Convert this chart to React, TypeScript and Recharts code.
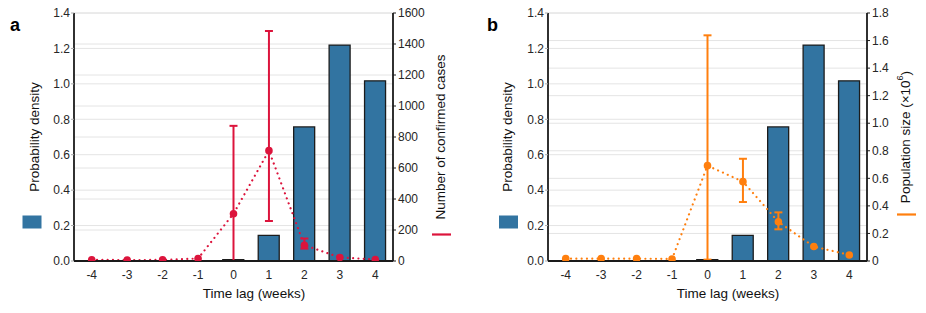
import React from 'react';
import { ComposedChart, Bar, Line, XAxis, YAxis, CartesianGrid, ErrorBar } from 'recharts';

// ---- data ----
const lags = [-4, -3, -2, -1, 0, 1, 2, 3, 4];
const density = [0.002, 0.001, 0.001, 0.001, 0.008, 0.145, 0.757, 1.219, 1.017];

const cases = [8, 6, 7, 16, 305, 712, 102, 23, 10];
const casesLow: (number | null)[] = [null, null, null, null, 0, 258, 80, null, null];
const casesHigh: (number | null)[] = [null, null, null, null, 872, 1484, 145, null, null];

const popSize = [0.017, 0.017, 0.017, 0.015, 0.692, 0.576, 0.284, 0.105, 0.044];
const popLow: (number | null)[] = [null, null, null, null, 0.01, 0.428, 0.23, null, null];
const popHigh: (number | null)[] = [null, null, null, null, 1.638, 0.742, 0.353, null, null];

const leftTicks = [0, 0.2, 0.4, 0.6, 0.8, 1.0, 1.2, 1.4];
const caseTicks = [0, 200, 400, 600, 800, 1000, 1200, 1400, 1600];
const popTicks = [0, 0.2, 0.4, 0.6, 0.8, 1.0, 1.2, 1.4, 1.6, 1.8];

const BLUE = '#3274a1';
const RED = '#dc143c';
const ORANGE = '#ff7f0e';
const FONT = '"Liberation Sans", Arial, Helvetica, sans-serif';
const AXIS = '#1a1a1a';
const GRID = '#e4e4e4';

function buildRows(vals: number[], lo: (number | null)[], hi: (number | null)[]) {
  return lags.map((lag, i) => ({
    lag,
    density: density[i],
    value: vals[i],
    err: lo[i] == null || hi[i] == null ? null : [vals[i] - (lo[i] as number), (hi[i] as number) - vals[i]],
  }));
}

const rowsA = buildRows(cases, casesLow, casesHigh);
const rowsB = buildRows(popSize, popLow, popHigh);

const tickStyle = { fontSize: 12, fill: '#262626', fontFamily: FONT };

function VLabel(props: any) {
  const { viewBox, dx = 0, children } = props;
  if (!viewBox) return null;
  const cx = viewBox.x + viewBox.width / 2 + dx;
  const cy = viewBox.y + viewBox.height / 2;
  return (
    <text
      x={cx}
      y={cy}
      transform={`rotate(-90 ${cx} ${cy})`}
      textAnchor="middle"
      dominantBaseline="central"
      fontSize={13.5}
      fontFamily={FONT}
      fill="#111"
    >
      {children}
    </text>
  );
}

function XLabel(props: any) {
  const { viewBox, dx = 0 } = props;
  if (!viewBox) return null;
  const cx = viewBox.x + viewBox.width / 2 + dx;
  return (
    <text x={cx} y={viewBox.y + 37} textAnchor="middle" fontSize={13.5} fontFamily={FONT} fill="#111">
      Time lag (weeks)
    </text>
  );
}

type PanelProps = {
  rows: any[];
  width: number;
  rightWidth: number;
  rightDomain: [number, number];
  rightTicks: number[];
  rightFmt: (v: number) => string;
  color: string;
  rightLabel: React.ReactNode;
  rightDx: number;
  leftDx: number;
};

function Panel(p: PanelProps) {
  return (
    <ComposedChart width={p.width} height={313} data={p.rows} margin={{ top: 13, right: 0, bottom: 0, left: 0 }} barGap={0}>
      <CartesianGrid yAxisId="left" vertical={false} stroke={GRID} strokeWidth={1} />
      <CartesianGrid yAxisId="right" vertical={false} stroke={GRID} strokeWidth={1} />
      <XAxis
        dataKey="lag"
        type="category"
        height={52}
        tickLine={false}
        tickSize={5}
        tickMargin={4}
        tick={tickStyle}
        axisLine={{ stroke: AXIS, strokeWidth: 1.8 }}
        label={<XLabel dx={20.5} />}
      />
      <XAxis
        xAxisId="top"
        dataKey="lag"
        orientation="top"
        height={0}
        tick={false}
        tickLine={false}
        axisLine={{ stroke: AXIS, strokeWidth: 1.8 }}
      />
      <YAxis
        yAxisId="left"
        width={74}
        domain={[0, 1.4]}
        ticks={leftTicks}
        interval={0}
        allowDataOverflow
        tickFormatter={(v: number) => v.toFixed(1)}
        tick={tickStyle}
        tickSize={3}
        tickMargin={1}
        tickLine={{ stroke: '#aaa' }}
        axisLine={{ stroke: AXIS, strokeWidth: 1.8 }}
        label={<VLabel dx={p.leftDx}>Probability density</VLabel>}
      />
      <YAxis
        yAxisId="right"
        orientation="right"
        width={p.rightWidth}
        domain={p.rightDomain}
        ticks={p.rightTicks}
        interval={0}
        allowDataOverflow
        tickFormatter={p.rightFmt}
        tick={tickStyle}
        tickSize={3}
        tickMargin={2}
        tickLine={{ stroke: AXIS }}
        axisLine={{ stroke: AXIS, strokeWidth: 1.8 }}
        label={<VLabel dx={p.rightDx}>{p.rightLabel}</VLabel>}
      />
      <Bar
        yAxisId="left"
        dataKey="density"
        fill={BLUE}
        stroke="#1c1c1c"
        strokeWidth={1.3}
        barSize={21}
        isAnimationActive={false}
      />
      <Line
        yAxisId="right"
        dataKey="value"
        type="linear"
        stroke={p.color}
        strokeWidth={2.2}
        strokeDasharray="0.01 5.3"
        strokeLinecap="round"
        dot={{ r: 3.8, fill: p.color, stroke: 'none', strokeDasharray: '0' }}
        activeDot={false}
        isAnimationActive={false}
      >
        <ErrorBar dataKey="err" direction="y" width={4} stroke={p.color} strokeWidth={2} strokeDasharray="0" />
      </Line>
    </ComposedChart>
  );
}

export default function App() {
  return (
    <div style={{ position: 'absolute', left: 0, top: 0, width: 926, height: 313, background: '#fff', overflow: 'hidden' }}>
      <div style={{ position: 'absolute', left: 0, top: 0 }}>
        <Panel
          rows={rowsA}
          width={474}
          rightWidth={81}
          rightDomain={[0, 1600]}
          rightTicks={caseTicks}
          rightFmt={(v: number) => String(v)}
          color={RED}
          rightLabel="Number of confirmed cases"
          rightDx={6.5}
          leftDx={-3}
        />
      </div>
      <div style={{ position: 'absolute', left: 474, top: 0 }}>
        <Panel
          rows={rowsB}
          width={452}
          rightWidth={59}
          rightDomain={[0, 1.8]}
          rightTicks={popTicks}
          rightFmt={(v: number) => (v === 0 ? '0' : v.toFixed(1))}
          color={ORANGE}
          rightLabel={
            <>
              Population size (×10
              <tspan dy={-5} fontSize={9}>6</tspan>
              <tspan dy={5}>)</tspan>
            </>
          }
          rightDx={8.5}
          leftDx={-4}
        />
      </div>
      <svg width={926} height={313} style={{ position: 'absolute', left: 0, top: 0, pointerEvents: 'none' }}>
        <text x={10} y={31} fontSize={18} fontWeight="bold" fontFamily={FONT} fill="#000">a</text>
        <text x={487} y={31} fontSize={18} fontWeight="bold" fontFamily={FONT} fill="#000">b</text>
        <rect x={22.5} y={215.5} width={19} height={13} fill={BLUE} />
        <rect x={499} y={215.5} width={19} height={13} fill={BLUE} />
        <line x1={432} x2={451} y1={234.5} y2={234.5} stroke={RED} strokeWidth={2.2} />
        <line x1={897} x2={916} y1={214.5} y2={214.5} stroke={ORANGE} strokeWidth={2.2} />
      </svg>
    </div>
  );
}
